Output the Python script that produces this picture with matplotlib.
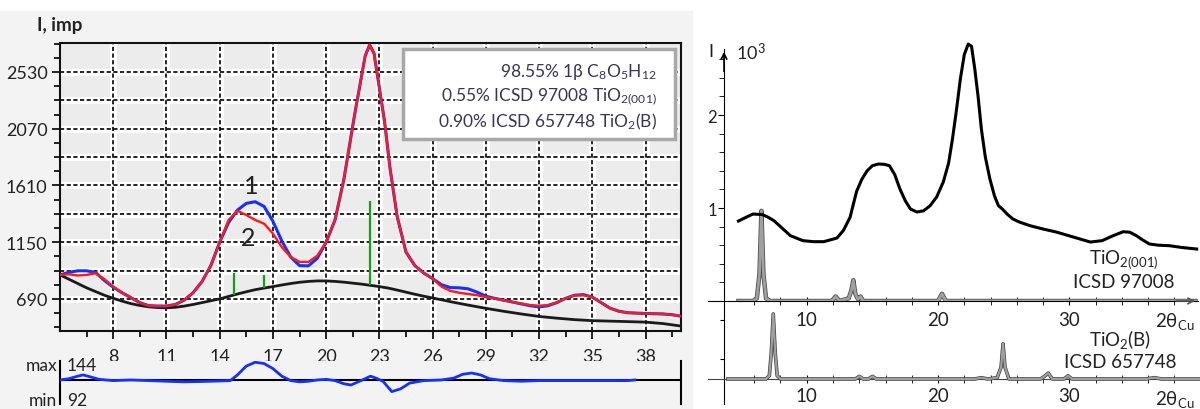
import numpy as np
import matplotlib
matplotlib.use("Agg")
import matplotlib.pyplot as plt
from matplotlib.patches import Rectangle
import matplotlib.patheffects as pe

plt.rcParams['font.family'] = ['Lato', 'DejaVu Sans']
plt.rcParams['mathtext.fontset'] = 'custom'
plt.rcParams['mathtext.rm'] = 'Lato'
plt.rcParams['mathtext.default'] = 'regular'

# ---- left panel: fitted XRD pattern ----
two_theta = [5.0, 5.5, 6.0, 6.5, 7.0, 7.5, 8.0, 8.5, 9.0, 9.5, 10.0, 10.5, 11.0, 11.5,
             12.0, 12.5, 13.0, 13.5, 14.0, 14.5, 15.0, 15.5, 16.0, 16.5, 17.0, 17.5,
             18.0, 18.5, 19.0, 19.5, 20.0, 20.5, 21.0, 21.3, 21.6, 21.9, 22.2, 22.45,
             22.7, 23.0, 23.3, 23.6, 24.0, 24.5, 25.0, 25.5, 26.0, 26.5, 27.0, 27.5,
             28.0, 28.5, 29.0, 29.5, 30.0, 30.5, 31.0, 31.5, 32.0, 32.5, 33.0, 33.5,
             34.0, 34.5, 35.0, 35.5, 36.0, 36.5, 37.0, 37.5, 38.0, 38.5, 39.0, 39.5, 40.0]
observed = [885, 905, 918, 918, 905, 840, 785, 740, 700, 660, 635, 632, 632, 645,
            680, 740, 830, 960, 1150, 1310, 1410, 1465, 1478, 1440, 1320, 1160,
            1030, 960, 958, 1020, 1150, 1330, 1660, 1920, 2180, 2420, 2660, 2750,
            2680, 2400, 2120, 1750, 1360, 1070, 960, 900, 855, 805, 782, 780,
            772, 745, 712, 695, 680, 665, 650, 635, 625, 635, 660, 695,
            720, 725, 705, 660, 615, 590, 578, 575, 572, 570, 568, 562, 550]
calculated = [885, 890, 880, 885, 898, 850, 790, 740, 700, 660, 635, 632, 632, 645,
              680, 740, 830, 960, 1150, 1330, 1405, 1370, 1330, 1300, 1220, 1110,
              1030, 990, 990, 1040, 1150, 1330, 1660, 1920, 2180, 2420, 2660, 2750,
              2680, 2400, 2120, 1750, 1360, 1070, 960, 900, 855, 790, 755, 740,
              730, 720, 705, 692, 678, 665, 652, 640, 635, 640, 662, 695,
              718, 720, 705, 660, 615, 590, 578, 575, 572, 570, 568, 562, 550]

bg_x = [5.0, 5.5, 6.0, 6.5, 7.0, 7.5, 8.0, 8.5, 9.0, 9.5, 10.0, 10.5, 11.0, 11.5, 12.0,
        12.5, 13.0, 13.5, 14.0, 14.5, 15.0, 15.5, 16.0, 16.5, 17.0, 17.5, 18.0, 18.5,
        19.0, 19.5, 20.0, 20.5, 21.0, 21.5, 22.0, 22.5, 23.0, 23.5, 24.0, 24.5, 25.0,
        25.5, 26.0, 27.0, 28.0, 29.0, 30.0, 31.0, 32.0, 33.0, 34.0, 35.0, 36.0, 37.0,
        38.0, 39.0, 40.0]
background = [885, 850, 815, 780, 750, 720, 695, 672, 652, 637, 626, 620, 618, 622, 632,
              645, 660, 675, 690, 710, 730, 748, 765, 778, 790, 803, 815, 825,
              832, 836, 836, 832, 826, 818, 810, 800, 790, 778, 762, 745, 728,
              712, 698, 668, 640, 614, 590, 568, 548, 534, 522, 514, 510, 506,
              502, 490, 470]

stick_x = [14.8, 16.5, 22.45]
stick_bottom = [722, 778, 800]
stick_top = [900, 884, 1480]

res_x = [5, 5.5, 6, 6.3, 6.7, 7.2, 8, 9, 10, 11, 12, 13, 14, 14.6, 15.0, 15.5, 16.0,
         16.5, 17.0, 17.5, 18.0, 18.5, 19.0, 19.5, 20.0, 20.5, 21.0, 21.4, 21.8, 22.2,
         22.5, 22.8, 23.2, 23.7, 24.2, 24.7, 25.5, 26.5, 27.2, 27.7, 28.2, 28.7, 29.2,
         30, 31, 32, 33, 34, 35, 36, 37, 37.4]
residual = [0, 10, 30, 40, 25, 5, -5, 0, -5, -10, -15, -12, -8, -5, 40, 110, 140,
            130, 90, 30, -5, -15, -10, 0, 5, -5, -30, -40, -15, 10,
            30, 15, -10, -92, -70, -25, -5, 0, 15, 45, 55, 40, 10,
            -5, -10, -5, -5, -5, -5, -5, -5, 0]
res_max, res_min = 144, 92

phase_labels = [r'98.55% 1β C$_8$O$_5$H$_{12}$',
                r'0.55% ICSD 97008 TiO$_{2(001)}$',
                r'0.90% ICSD 657748 TiO$_2$(B)']

# ---- right panel: experimental curve and reference patterns ----
exp_x = [4.8, 5.3, 5.9, 6.6, 7.0, 7.5, 8.0, 8.75, 9.7, 10.5, 11.3, 12.3, 12.8, 13.3,
         13.8, 14.2, 14.6, 15.0, 15.45, 15.9, 16.3, 16.7, 17.1, 17.5, 17.9, 18.4, 18.9,
         19.4, 19.9, 20.4, 20.8, 21.1, 21.4, 21.7, 22.0, 22.3, 22.55, 22.8, 23.05, 23.3,
         23.6, 23.95, 24.3, 24.6, 24.9, 25.3, 25.7, 26.2, 27.0, 28.0, 29.0, 30.3, 31.6,
         32.5, 33.3, 34.1, 34.6, 35.1, 35.6, 36.1, 36.8, 37.6, 38.6, 39.7]
exp_I = [860, 895, 935, 930, 905, 864, 800, 703, 649, 638, 638, 677, 760, 900,
         1180, 1310, 1400, 1455, 1473, 1470, 1455, 1360, 1204, 1080, 989, 957, 970,
         1025, 1120, 1280, 1480, 1742, 2050, 2387, 2650, 2763, 2740, 2495, 2200, 1850,
         1550, 1312, 1130, 1025, 989, 930, 882, 849, 810, 774, 742, 688, 634,
         649, 700, 745, 740, 703, 655, 613, 600, 595, 575, 559]

ref1_x = [4.8, 5.9, 6.2, 6.4, 6.55, 6.7, 6.9, 7.2, 11.9, 12.2, 12.5, 13.2, 13.4,
          13.55, 13.7, 13.9, 14.1, 14.3, 17.5, 20.0, 20.3, 20.6, 24.0, 31.0, 39.6]
ref1_rel = [0, 0, 3, 30, 100, 30, 3, 0, 0, 5, 0, 3, 12, 23, 8, 2, 5, 0, 0, 0, 8, 0,
            0, 0, 0]

ref2_x = [4.0, 6.9, 7.15, 7.3, 7.45, 7.6, 7.75, 8.0, 13.7, 14.0, 14.3, 14.7, 15.0,
          15.3, 22.8, 23.3, 23.8, 24.5, 24.8, 24.95, 25.1, 25.4, 27.8, 28.1, 28.4,
          28.7, 29.6, 29.9, 30.2, 35.8, 36.5, 37.0, 40.0]
ref2_rel = [0, 0, 5, 40, 100, 40, 5, 0, 0, 4, 0, 0, 4, 0, 0, 2, 0, 2, 18, 54, 18,
            0, 0, 4, 9, 0, 0, 5, 0, 0, 2, 0, 0]

W, H = 1200, 410


def box(l, t, r, b):
    return [l / W, 1 - b / H, (r - l) / W, (b - t) / H]


fig = plt.figure(figsize=(12, 4.1), dpi=100)
fig.add_artist(Rectangle((0, 0), 692 / W, 1 - 12 / H, transform=fig.transFigure,
                         color='#f3f3f3', zorder=0))

txt = '#222222'

# main fit axes
ax = fig.add_axes(box(60, 44, 681, 332))
ax.set_facecolor('#ececec')
ax.set_xlim(5, 40)
ax.set_ylim(430, 2765)
for v in np.arange(690, 2700, 230):
    ax.axhline(v, color='white', lw=5, zorder=0.5)
    ax.axhline(v, color='black', lw=1.2, ls=(0, (2.5, 1.5)), zorder=1)
for v in np.arange(8, 39, 3):
    ax.axvline(v, color='white', lw=5, zorder=0.5)
    ax.axvline(v, color='black', lw=1.2, ls=(0, (2.5, 1.5)), zorder=1)

ax.plot(bg_x, background, color='#1a1a1a', lw=2, zorder=3)
ax.vlines(stick_x, stick_bottom, stick_top, color='#1e9a1e', lw=1.6, zorder=3)
ax.plot(two_theta, observed, color='#1530ff', lw=2.2, zorder=4)
ax.plot(two_theta, calculated, color='#ff1a1a', lw=1.7, zorder=5)

ax.text(15.8, 1610, '1', fontsize=18, color=txt, ha='center', va='center', zorder=6)
ax.text(15.6, 1190, '2', fontsize=18, color=txt, ha='center', va='center', zorder=6)

ax.set_xticks(np.arange(8, 39, 3))
ax.set_xticks(np.arange(6.5, 40, 1.5), minor=True)
ax.set_yticks([690, 1150, 1610, 2070, 2530])
ax.set_yticks(np.arange(460, 2765, 115), minor=True)
ax.tick_params(which='both', direction='out', colors='black', labelcolor=txt,
               labelsize=13, width=1.2)
ax.tick_params(which='major', length=6, pad=3)
ax.tick_params(which='minor', length=4)
ax.tick_params(axis='x', pad=6)
for s in ax.spines.values():
    s.set_linewidth(1.5)
    s.set_color('#111111')

fig.text(37 / W, 1 - 25 / H, 'I, imp', fontsize=13.5, fontweight='bold',
         color=txt, va='center')

fig.add_artist(Rectangle((403 / W, 1 - 140 / H), 272 / W, 90 / H,
                         transform=fig.transFigure, facecolor='white',
                         edgecolor='#a8a8a8', lw=2.5, zorder=10))
for i, lab in enumerate(phase_labels):
    fig.text(657 / W, 1 - (72 + 25 * i) / H, lab, fontsize=12.5, color='#3a3458',
             ha='right', va='center', zorder=11)

# residual axes
axr = fig.add_axes(box(60, 362, 681, 405))
axr.set_facecolor('#f3f3f3')
axr.set_xlim(5, 40)
axr.set_ylim(-190, 150)
axr.axhline(0, color='black', lw=1.5, zorder=2)
axr.plot(res_x, residual, color='#1530ff', lw=2, zorder=3)
axr.set_xticks([])
axr.set_yticks([])
axr.spines['top'].set_visible(False)
axr.spines['bottom'].set_visible(False)
for s in ('left', 'right'):
    axr.spines[s].set_linewidth(1.5)
fig.text(57 / W, 1 - 366 / H, 'max', fontsize=12.5, color=txt, ha='right', va='center')
fig.text(67 / W, 1 - 366 / H, str(res_max), fontsize=12.5, color=txt, va='center')
fig.text(57 / W, 1 - 401 / H, 'min', fontsize=12.5, color=txt, ha='right', va='center')
fig.text(67 / W, 1 - 401 / H, str(res_min), fontsize=12.5, color=txt, va='center')

# right panel, upper: experimental curve + TiO2(001) reference
X0 = 3.7
axu = fig.add_axes(box(708, 50, 1198, 302))
axu.patch.set_alpha(0)
axu.set_xlim(2.48, 39.8)
axu.set_ylim(0, 2710)
ref_scale = 9.7
axu.plot(ref1_x, np.array(ref1_rel) * ref_scale, color='#a0a0a0', lw=2.0, zorder=3,
         path_effects=[pe.withStroke(linewidth=3.2, foreground='#505050')])
axu.plot(exp_x, exp_I, color='black', lw=2.2, clip_on=False, zorder=4)
axu.spines['top'].set_visible(False)
axu.spines['right'].set_visible(False)
axu.spines['left'].set_position(('data', X0))
axu.set_xticks([10, 20, 30])
axu.set_xticks(np.arange(6, 40, 2), minor=True)
axu.set_yticks([1000, 2000])
axu.set_yticklabels(['1', '2'])
axu.set_yticks(np.arange(200, 2700, 200), minor=True)
axu.tick_params(axis='x', which='both', direction='inout', length=6, labelsize=13.5,
                labelcolor=txt, pad=4)
axu.tick_params(axis='y', which='major', direction='out', length=4, labelsize=12,
                labelcolor=txt, pad=1)
axu.tick_params(axis='y', which='minor', direction='out', length=3.5)
axu.annotate('', xy=(X0, 1.0), xytext=(X0, 0.9), xycoords=('data', 'axes fraction'),
             arrowprops=dict(arrowstyle='->', lw=1.2, color='black'))
axu.annotate('', xy=(1.0, 0), xytext=(0.95, 0), xycoords='axes fraction',
             arrowprops=dict(arrowstyle='->', lw=1.2, color='#555555'))
fig.text(711 / W, 1 - 52 / H, 'I', fontsize=13, color=txt, va='center', ha='center')
fig.text(736 / W, 1 - 52 / H, r'10$^3$', fontsize=13, color=txt, va='center')
fig.text(1124 / W, 1 - 260 / H, r'TiO$_{2(001)}$', fontsize=13.5, color=txt,
         ha='center', va='center')
fig.text(1124 / W, 1 - 283 / H, 'ICSD 97008', fontsize=13.5, color=txt,
         ha='center', va='center')
fig.text(1175 / W, 1 - 322 / H, r'2θ$_{Cu}$', fontsize=13.5, color=txt,
         ha='center', va='center')

# right panel, lower: TiO2(B) reference
axl = fig.add_axes(box(708, 302, 1200, 405))
axl.patch.set_alpha(0)
axl.set_xlim(2.48, 39.95)
axl.set_ylim(-38.5, 120)
axl.plot(ref2_x, ref2_rel, color='#a0a0a0', lw=1.6, zorder=3,
         path_effects=[pe.withStroke(linewidth=2.6, foreground='#404040')])
axl.spines['top'].set_visible(False)
axl.spines['right'].set_visible(False)
axl.spines['bottom'].set_position(('data', 0))
axl.spines['bottom'].set_color('#444444')
axl.spines['left'].set_position(('data', X0))
axl.set_xticks([10, 20, 30])
axl.set_xticks(np.arange(6, 40, 2), minor=True)
axl.set_yticks([30, 90])
axl.set_yticklabels([])
axl.tick_params(axis='x', which='both', direction='inout', length=6, labelsize=13.5,
                labelcolor=txt, pad=3)
axl.tick_params(axis='y', direction='out', length=3)
fig.text(1120 / W, 1 - 340 / H, r'TiO$_2$(B)', fontsize=13.5, color=txt,
         ha='center', va='center')
fig.text(1120 / W, 1 - 363 / H, 'ICSD 657748', fontsize=13.5, color=txt,
         ha='center', va='center')
fig.text(1175 / W, 1 - 400 / H, r'2θ$_{Cu}$', fontsize=13.5, color=txt,
         ha='center', va='center')

fig.savefig('out.png', dpi=100)
